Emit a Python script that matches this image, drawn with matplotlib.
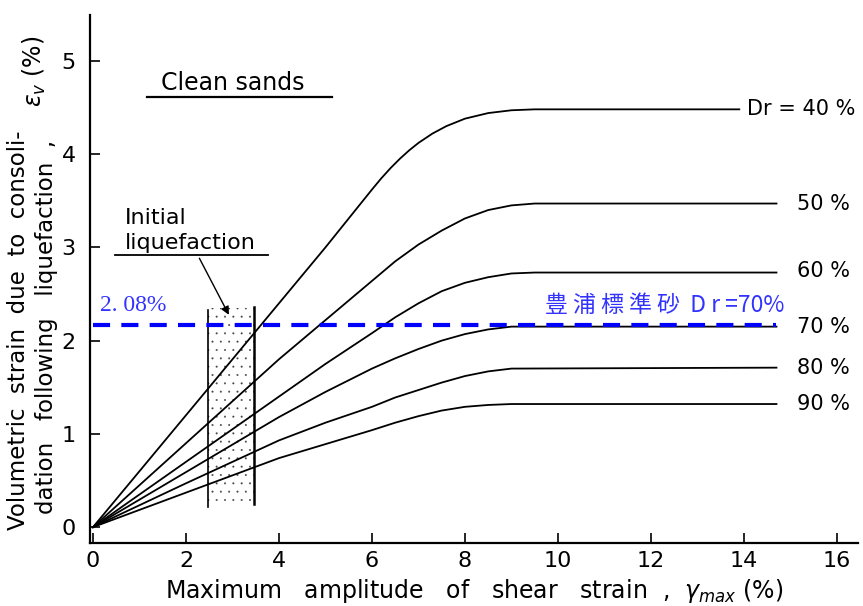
import matplotlib
matplotlib.use("Agg")
import matplotlib.pyplot as plt

plt.rcParams["hatch.linewidth"] = 0.2
plt.rcParams["hatch.color"] = "#444444"

# ---- data ----
x40 = [0, 2, 4, 5, 6, 6.2, 6.4, 6.6, 6.8, 7.0, 7.3, 7.6, 8.0, 8.5, 9.0, 9.5, 13.9]
y40 = [0, 1.2, 2.4, 3.0, 3.62, 3.74, 3.85, 3.95, 4.04, 4.12, 4.22, 4.3, 4.38, 4.44, 4.47, 4.48, 4.48]
x50 = [0, 2, 4, 5, 6, 6.5, 7, 7.5, 8, 8.5, 9, 9.5, 14.7]
y50 = [0, 0.9, 1.8, 2.22, 2.64, 2.85, 3.03, 3.18, 3.31, 3.4, 3.45, 3.47, 3.47]
x60 = [0, 2, 4, 5, 6, 6.5, 7, 7.5, 8, 8.5, 9, 9.5, 14.7]
y60 = [0, 0.7, 1.4, 1.75, 2.08, 2.25, 2.4, 2.53, 2.62, 2.68, 2.72, 2.73, 2.73]
x70 = [0, 2, 4, 5, 6, 6.5, 7, 7.5, 8, 8.5, 9, 9.5, 14.7]
y70 = [0, 0.59, 1.18, 1.45, 1.7, 1.81, 1.91, 2.0, 2.07, 2.12, 2.15, 2.15, 2.15]
x80 = [0, 2, 4, 5, 6, 6.5, 7, 7.5, 8, 8.5, 9, 14.7]
y80 = [0, 0.47, 0.93, 1.12, 1.29, 1.39, 1.47, 1.55, 1.62, 1.67, 1.70, 1.71]
x90 = [0, 2, 4, 5, 6, 6.5, 7, 7.5, 8, 8.5, 9, 14.7]
y90 = [0, 0.37, 0.74, 0.89, 1.04, 1.12, 1.19, 1.25, 1.29, 1.31, 1.32, 1.32]

curve_labels = ["Dr = 40 %", "50 %", "60 %", "70 %", "80 %", "90 %"]
label_y = [4.48, 3.47, 2.75, 2.15, 1.71, 1.32]

band_x = [2.47, 3.46]        # initial liquefaction band
band_y = [0.23, 2.35]
ref_level = 2.17             # blue reference line (Toyoura sand Dr=70%)
ref_xmax = 14.7

xticks = [0, 2, 4, 6, 8, 10, 12, 14, 16]
yticks = [0, 1, 2, 3, 4, 5]

# ---- figure ----
FONT = "DejaVu Sans"
fig = plt.figure(figsize=(8.63, 6.06), dpi=100)
ax = fig.add_axes([0.104, 0.104, 0.890, 0.871])
ax.set_xlim(-0.07, 16.45)
ax.set_ylim(-0.17, 5.49)

for s in ["top", "right"]:
    ax.spines[s].set_visible(False)
for s in ["left", "bottom"]:
    ax.spines[s].set_linewidth(1.6)

ax.set_xticks(xticks)
ax.set_yticks(yticks)
ax.tick_params(direction="in", length=7, width=1.2, labelsize=16)
ax.tick_params(axis="x", pad=6)
ax.tick_params(axis="y", pad=10)
for lab in ax.get_xticklabels() + ax.get_yticklabels():
    lab.set_family(FONT)

# curves
for xs, ys in [(x40, y40), (x50, y50), (x60, y60), (x70, y70), (x80, y80), (x90, y90)]:
    ax.plot(xs, ys, color="black", lw=1.3, solid_joinstyle="round")

# curve labels
ax.text(14.06, label_y[0], curve_labels[0], fontsize=15, va="center", ha="left", family=FONT)
for lab, yy in zip(curve_labels[1:], label_y[1:]):
    ax.text(15.14, yy, lab, fontsize=15, va="center", ha="left", family=FONT)

# initial liquefaction band
ax.fill_between(band_x, band_y[0], band_y[1], facecolor="none", edgecolor="#444444",
                hatch="..", linewidth=0)
ax.plot([band_x[0], band_x[0]], [band_y[0] - 0.01, band_y[1] - 0.02], color="black", lw=1.2)
ax.plot([band_x[1], band_x[1]], [band_y[0] + 0.02, band_y[1] + 0.01], color="black", lw=1.8)

# blue reference line
ax.plot([0, ref_xmax], [ref_level, ref_level], color="#0000ff", lw=3, dashes=(4.1, 2.7))
ax.text(0.15, 2.38, "2. 08%", color="#3333ff", fontsize=17, family="Liberation Serif",
        va="center", ha="left")
ax.text(9.72, 2.38, "豊 浦 標 準 砂  D r =70%", color="#3333ff", fontsize=16.5,
        family=["Noto Sans CJK JP", "DejaVu Sans"], va="center", ha="left")

# annotations
ax.text(3.0, 4.76, "Clean sands", fontsize=17, ha="center", va="center", family=FONT)
ax.plot([1.16, 5.14], [4.61, 4.61], color="black", lw=1.6)

ax.text(0.69, 3.32, "Initial", fontsize=16, ha="left", va="center", family=FONT)
ax.text(0.69, 3.05, "liquefaction", fontsize=16, ha="left", va="center", family=FONT)
ax.plot([0.47, 3.76], [2.92, 2.92], color="black", lw=1.3)
ax.annotate("", xy=(2.95, 2.25), xytext=(2.26, 2.91),
            arrowprops=dict(arrowstyle="-|>", color="black", lw=1.0, mutation_scale=12))

# axis labels
ax.set_xlabel("Maximum   amplitude   of   shear   strain  ,  $\\gamma_{max}$ (%)",
              fontsize=17, family=FONT, labelpad=4)
fig.text(0.022, 0.455, "Volumetric  strain  due  to  consoli-", rotation=90,
         fontsize=16.5, family=FONT, ha="center", va="center")
fig.text(0.054, 0.46, "dation   following   liquefaction  ,", rotation=90,
         fontsize=16.5, family=FONT, ha="center", va="center")
fig.text(0.040, 0.883, "$\\epsilon_v$ (%)", rotation=90,
         fontsize=17, family=FONT, ha="center", va="center")

fig.savefig("out.png", dpi=100)
